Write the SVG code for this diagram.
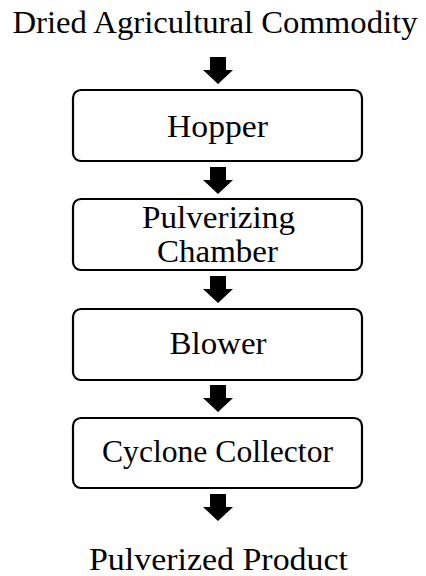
<svg xmlns="http://www.w3.org/2000/svg" width="426" height="576" viewBox="0 0 426 576">
<defs>
<style>
text{font-family:"Liberation Serif","DejaVu Serif",serif;font-size:31px;fill:#000;text-anchor:middle}
.box{fill:#fff;stroke:#000;stroke-width:2.2}
.arr{fill:#000}
</style>
</defs>
<rect x="0" y="0" width="426" height="576" fill="#fff"/>
<g id="input"><text x="215" y="33" textLength="405" lengthAdjust="spacingAndGlyphs">Dried Agricultural Commodity</text></g>
<g id="hopper"><rect class="box" x="73" y="90" width="289" height="71" rx="8"/><text x="217.5" y="137" textLength="101" lengthAdjust="spacingAndGlyphs">Hopper</text></g>
<g id="chamber"><rect class="box" x="73" y="199" width="289" height="71" rx="8"/><text x="218.5" y="228" textLength="153" lengthAdjust="spacingAndGlyphs">Pulverizing</text><text x="217.5" y="262" textLength="121" lengthAdjust="spacingAndGlyphs">Chamber</text></g>
<g id="blower"><rect class="box" x="73" y="309" width="289" height="71" rx="8"/><text x="218" y="354" textLength="97" lengthAdjust="spacingAndGlyphs">Blower</text></g>
<g id="cyclone"><rect class="box" x="73" y="418" width="289" height="70" rx="8"/><text x="217.5" y="462" textLength="231" lengthAdjust="spacingAndGlyphs">Cyclone Collector</text></g>
<g id="output"><text x="218.5" y="570" textLength="259" lengthAdjust="spacingAndGlyphs">Pulverized Product</text></g>
<g id="connectors">
<polygon class="arr" points="210,57 226,57 226,70 233,70 218,84 203,70 210,70"/>
<polygon class="arr" points="210,167 226,167 226,180 233,180 218,194 203,180 210,180"/>
<polygon class="arr" points="210,276 226,276 226,289 233,289 218,303 203,289 210,289"/>
<polygon class="arr" points="210,385 226,385 226,398 233,398 218,412 203,398 210,398"/>
<polygon class="arr" points="210,494 226,494 226,507 233,507 218,521 203,507 210,507"/>
</g>
</svg>
